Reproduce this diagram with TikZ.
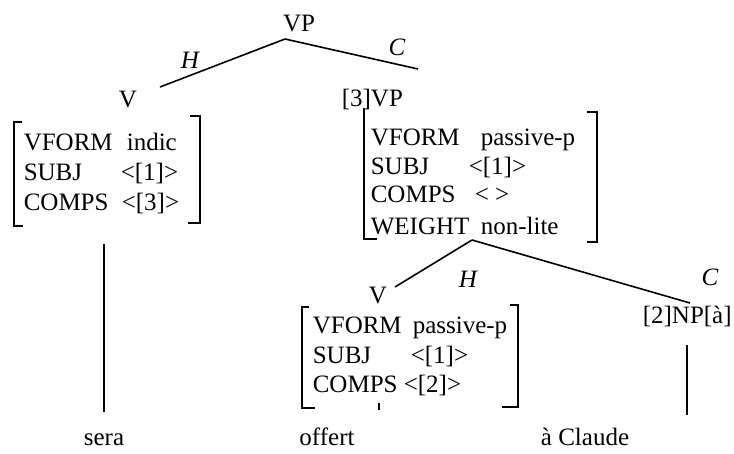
\documentclass[tikz,border=0pt]{standalone}
\usepackage{fontspec}
\setmainfont{Liberation Serif}
\usetikzlibrary{positioning}

\begin{document}
\begin{tikzpicture}[x=1pt,y=-1pt,line width=1.6pt,
  every node/.style={font=\fontsize{25}{30}\selectfont,inner sep=0pt},
  cat/.style={anchor=base},
  feat/.style={anchor=base west},
  lab/.style={anchor=base,font=\fontsize{25}{30}\selectfont\itshape}]
         \useasboundingbox (0,0) rectangle (734,453);
         % categories
         \node[cat] (vp) at (299,31) {VP};
         \node[cat] (v) at (128,107) {V};
         \node[feat] (vp3) at (341,106) {[3]VP};
         \node[cat] (vlow) at (378,303) {V};
         \node[feat] (np) at (642,323) {[2]NP[à]};
         \node[lab] (h1) at (190,68) {H};
         \node[lab] (c1) at (397,55) {C};
         \node[lab] (h2) at (468,287) {H};
         \node[lab] (c2) at (710,285) {C};
         % words
         \node[cat] (sera) at (104,445) {sera};
         \node[cat] (offert) at (327,445) {offert};
         \node[cat] (claude) at (585,445) {à Claude};
         % feature structures
         \foreach \y/\f/\x/\v in {150/VFORM/126/indic, 180/SUBJ/120/{<[1]>}, 210/COMPS/121/{<[3]>}} {
           \node[feat] (a-\f) at (23,\y) {\f}; \node[feat] (av-\f) at (\x,\y) {\v}; }
         \foreach \y/\f/\x/\v in {145/VFORM/480/passive-p, 174/SUBJ/468/{<[1]>}, 202/COMPS/474/{< >}, 234/WEIGHT/480/non-lite} {
           \node[feat] (b-\f) at (370,\y) {\f}; \node[feat] (bv-\f) at (\x,\y) {\v}; }
         \foreach \y/\f/\x/\v in {333/VFORM/412/passive-p, 363/SUBJ/410/{<[1]>}, 392/COMPS/403/{<[2]>}} {
           \node[feat] (c-\f) at (312,\y) {\f}; \node[feat] (cv-\f) at (\x,\y) {\v}; }
         % brackets
         \draw (22,122) -- (14,122) -- (14,226) -- (23,226);
         \draw (190,116) -- (200,116) -- (200,223) -- (188,223);
         \draw (364,108) -- (364,239) -- (377,239);
         \draw (587,112) -- (597,112) -- (597,242) -- (587,242);
         \draw (309,307) -- (302,307) -- (302,408) -- (315,408);
         \draw (510,305) -- (518,305) -- (518,407) -- (502,407);
         % branches
         \coordinate (vp-foot) at (285,39);
         \coordinate (v-top) at (160,87);
         \coordinate (vp3-top) at (418,69);
         \coordinate (w-foot) at (472,240);
         \coordinate (vlow-top) at (395,287);
         \coordinate (np-top) at (690,303);
         \draw (vp-foot) -- (v-top);
         \draw (vp-foot) -- (vp3-top);
         \draw (w-foot) -- (vlow-top);
         \draw (w-foot) -- (np-top);
         \draw ([yshift=20pt]sera.north) -- ++(0,-168);
         \draw ([xshift=52pt,yshift=17pt]offert.north) -- ++(0,-7);
         \draw ([yshift=-22pt]np.base) -- ++(0,70);
      \end{tikzpicture}
\end{document}
